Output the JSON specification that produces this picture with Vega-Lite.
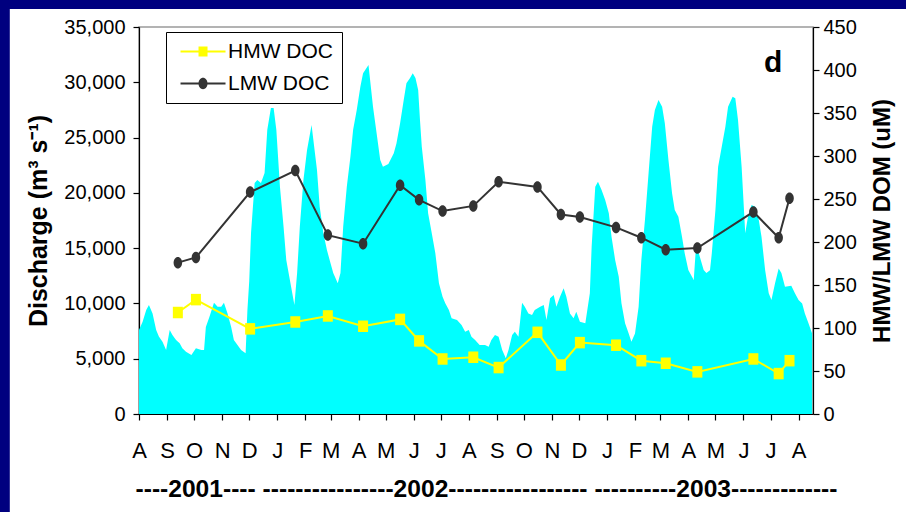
{
  "$schema": "https://vega.github.io/schema/vega-lite/v6.json",
  "width": 674,
  "height": 387,
  "autosize": {"type": "none"},
  "padding": {"left": 139, "top": 27, "right": 93, "bottom": 98},
  "background": "white",
  "config": {
    "font": "Liberation Sans",
    "view": {"stroke": "#9a9a9a", "strokeWidth": 1.5},
    "axis": {
      "zindex": 1, "grid": false, "domainColor": "#000000", "domainWidth": 1.2,
      "tickColor": "#000000", "tickSize": 6, "tickWidth": 1.2,
      "labelColor": "#000000", "labelFont": "Liberation Sans", "labelFontSize": 20,
      "titleColor": "#000000"
    }
  },
  "datasets": {
    "discharge": [
      {"date": "2001-08-01", "q": 7600}, {"date": "2001-08-05", "q": 8350}, {"date": "2001-08-09", "q": 9400},
      {"date": "2001-08-12", "q": 9860}, {"date": "2001-08-16", "q": 9100}, {"date": "2001-08-20", "q": 7600},
      {"date": "2001-08-23", "q": 7000}, {"date": "2001-08-27", "q": 6540}, {"date": "2001-08-31", "q": 5790},
      {"date": "2001-09-04", "q": 7600}, {"date": "2001-09-07", "q": 7150}, {"date": "2001-09-11", "q": 6690},
      {"date": "2001-09-15", "q": 6390}, {"date": "2001-09-18", "q": 5940}, {"date": "2001-09-22", "q": 5640},
      {"date": "2001-09-28", "q": 5340}, {"date": "2001-10-03", "q": 5940}, {"date": "2001-10-09", "q": 5790},
      {"date": "2001-10-12", "q": 5790}, {"date": "2001-10-14", "q": 7870}, {"date": "2001-10-18", "q": 8800},
      {"date": "2001-10-23", "q": 10070}, {"date": "2001-10-27", "q": 9700}, {"date": "2001-10-31", "q": 9700},
      {"date": "2001-11-03", "q": 10070}, {"date": "2001-11-07", "q": 9100}, {"date": "2001-11-11", "q": 7870},
      {"date": "2001-11-14", "q": 6690}, {"date": "2001-11-18", "q": 6240}, {"date": "2001-11-22", "q": 5790},
      {"date": "2001-11-27", "q": 5490}, {"date": "2001-11-29", "q": 9400}, {"date": "2001-12-01", "q": 12000},
      {"date": "2001-12-03", "q": 16370}, {"date": "2001-12-07", "q": 20900}, {"date": "2001-12-10", "q": 21160},
      {"date": "2001-12-14", "q": 20900}, {"date": "2001-12-18", "q": 21800}, {"date": "2001-12-21", "q": 25700},
      {"date": "2001-12-25", "q": 27670}, {"date": "2001-12-28", "q": 27670}, {"date": "2001-12-31", "q": 25700},
      {"date": "2002-01-04", "q": 20560}, {"date": "2002-01-08", "q": 16940}, {"date": "2002-01-11", "q": 13930},
      {"date": "2002-01-15", "q": 12120}, {"date": "2002-01-20", "q": 9860}, {"date": "2002-01-23", "q": 12750},
      {"date": "2002-01-26", "q": 16940}, {"date": "2002-01-30", "q": 21160}, {"date": "2002-02-03", "q": 23880},
      {"date": "2002-02-08", "q": 26140}, {"date": "2002-02-14", "q": 22070}, {"date": "2002-02-17", "q": 18750},
      {"date": "2002-02-21", "q": 16370}, {"date": "2002-02-25", "q": 14830}, {"date": "2002-02-28", "q": 13930},
      {"date": "2002-03-04", "q": 12750}, {"date": "2002-03-09", "q": 11820}, {"date": "2002-03-12", "q": 12750},
      {"date": "2002-03-15", "q": 16940}, {"date": "2002-03-19", "q": 20560}, {"date": "2002-03-23", "q": 23270},
      {"date": "2002-03-26", "q": 25700}, {"date": "2002-03-30", "q": 27490}, {"date": "2002-04-03", "q": 29600},
      {"date": "2002-04-06", "q": 30810}, {"date": "2002-04-12", "q": 31560}, {"date": "2002-04-17", "q": 27790},
      {"date": "2002-04-21", "q": 25390}, {"date": "2002-04-25", "q": 22970}, {"date": "2002-04-28", "q": 22370},
      {"date": "2002-05-04", "q": 22600}, {"date": "2002-05-10", "q": 23580}, {"date": "2002-05-13", "q": 24480},
      {"date": "2002-05-17", "q": 26290}, {"date": "2002-05-21", "q": 28400}, {"date": "2002-05-24", "q": 29910},
      {"date": "2002-05-28", "q": 30390}, {"date": "2002-05-31", "q": 30810}, {"date": "2002-06-03", "q": 30390},
      {"date": "2002-06-06", "q": 29300}, {"date": "2002-06-08", "q": 26590}, {"date": "2002-06-10", "q": 24180},
      {"date": "2002-06-14", "q": 21160}, {"date": "2002-06-17", "q": 18150}, {"date": "2002-06-21", "q": 16370},
      {"date": "2002-06-25", "q": 14530}, {"date": "2002-06-29", "q": 11820}, {"date": "2002-07-03", "q": 10610},
      {"date": "2002-07-06", "q": 10010}, {"date": "2002-07-10", "q": 9400}, {"date": "2002-07-13", "q": 8650},
      {"date": "2002-07-19", "q": 8500}, {"date": "2002-07-24", "q": 8050}, {"date": "2002-07-28", "q": 7440},
      {"date": "2002-08-01", "q": 7600}, {"date": "2002-08-04", "q": 6990}, {"date": "2002-08-08", "q": 6690},
      {"date": "2002-08-13", "q": 6240}, {"date": "2002-08-19", "q": 6240}, {"date": "2002-08-23", "q": 6090},
      {"date": "2002-08-26", "q": 6690}, {"date": "2002-08-30", "q": 7150}, {"date": "2002-09-03", "q": 6990},
      {"date": "2002-09-07", "q": 5790}, {"date": "2002-09-11", "q": 5040}, {"date": "2002-09-14", "q": 5790},
      {"date": "2002-09-18", "q": 7150}, {"date": "2002-09-21", "q": 7440}, {"date": "2002-09-25", "q": 6990},
      {"date": "2002-09-29", "q": 10070}, {"date": "2002-10-02", "q": 9700}, {"date": "2002-10-06", "q": 9100},
      {"date": "2002-10-10", "q": 8950}, {"date": "2002-10-13", "q": 9400}, {"date": "2002-10-19", "q": 9700},
      {"date": "2002-10-23", "q": 9860}, {"date": "2002-10-26", "q": 8500}, {"date": "2002-10-30", "q": 10460},
      {"date": "2002-11-03", "q": 10760}, {"date": "2002-11-06", "q": 9700}, {"date": "2002-11-10", "q": 10610},
      {"date": "2002-11-14", "q": 11370}, {"date": "2002-11-17", "q": 10610}, {"date": "2002-11-21", "q": 9100},
      {"date": "2002-11-25", "q": 8650}, {"date": "2002-11-28", "q": 9250}, {"date": "2002-12-02", "q": 8350},
      {"date": "2002-12-08", "q": 8200}, {"date": "2002-12-13", "q": 10910}, {"date": "2002-12-15", "q": 15130},
      {"date": "2002-12-19", "q": 20560}, {"date": "2002-12-22", "q": 21010}, {"date": "2002-12-26", "q": 20260},
      {"date": "2002-12-30", "q": 19350}, {"date": "2003-01-03", "q": 18150}, {"date": "2003-01-06", "q": 16040},
      {"date": "2003-01-10", "q": 13930}, {"date": "2003-01-14", "q": 12420}, {"date": "2003-01-17", "q": 10010},
      {"date": "2003-01-21", "q": 8200}, {"date": "2003-01-25", "q": 7290}, {"date": "2003-01-28", "q": 6540},
      {"date": "2003-02-01", "q": 7290}, {"date": "2003-02-05", "q": 9700}, {"date": "2003-02-08", "q": 13930},
      {"date": "2003-02-12", "q": 17540}, {"date": "2003-02-16", "q": 21770}, {"date": "2003-02-20", "q": 25980},
      {"date": "2003-02-23", "q": 27490}, {"date": "2003-02-27", "q": 28400}, {"date": "2003-03-03", "q": 27790},
      {"date": "2003-03-06", "q": 26290}, {"date": "2003-03-10", "q": 22970}, {"date": "2003-03-14", "q": 19960},
      {"date": "2003-03-17", "q": 18450}, {"date": "2003-03-21", "q": 17840}, {"date": "2003-03-25", "q": 16040},
      {"date": "2003-03-28", "q": 14530}, {"date": "2003-04-01", "q": 13020}, {"date": "2003-04-07", "q": 12120},
      {"date": "2003-04-09", "q": 14530}, {"date": "2003-04-12", "q": 14700}, {"date": "2003-04-18", "q": 13020},
      {"date": "2003-04-21", "q": 12750}, {"date": "2003-04-25", "q": 13000}, {"date": "2003-04-27", "q": 14530},
      {"date": "2003-05-01", "q": 18450}, {"date": "2003-05-04", "q": 22370}, {"date": "2003-05-08", "q": 24180},
      {"date": "2003-05-12", "q": 25980}, {"date": "2003-05-15", "q": 27790}, {"date": "2003-05-20", "q": 28700},
      {"date": "2003-05-23", "q": 28550}, {"date": "2003-05-26", "q": 26590}, {"date": "2003-05-30", "q": 22370},
      {"date": "2003-06-03", "q": 16340}, {"date": "2003-06-06", "q": 17840}, {"date": "2003-06-10", "q": 18900},
      {"date": "2003-06-14", "q": 18750}, {"date": "2003-06-18", "q": 17540}, {"date": "2003-06-21", "q": 16040},
      {"date": "2003-06-25", "q": 13020}, {"date": "2003-06-29", "q": 10910}, {"date": "2003-07-02", "q": 10310},
      {"date": "2003-07-06", "q": 11820}, {"date": "2003-07-10", "q": 13170}, {"date": "2003-07-13", "q": 12750},
      {"date": "2003-07-17", "q": 11510}, {"date": "2003-07-24", "q": 11600}, {"date": "2003-07-28", "q": 10910},
      {"date": "2003-08-01", "q": 10310}, {"date": "2003-08-05", "q": 10000}, {"date": "2003-08-08", "q": 9100},
      {"date": "2003-08-12", "q": 8200}, {"date": "2003-08-16", "q": 7290}
    ],
    "doc": [
      {"date": "2001-09-13", "series": "HMW DOC", "value": 118}, {"date": "2001-09-13", "series": "LMW DOC", "value": 176},
      {"date": "2001-10-03", "series": "HMW DOC", "value": 133}, {"date": "2001-10-03", "series": "LMW DOC", "value": 182},
      {"date": "2001-12-02", "series": "HMW DOC", "value": 99}, {"date": "2001-12-02", "series": "LMW DOC", "value": 258},
      {"date": "2002-01-21", "series": "HMW DOC", "value": 107}, {"date": "2002-01-21", "series": "LMW DOC", "value": 283},
      {"date": "2002-02-26", "series": "HMW DOC", "value": 114}, {"date": "2002-02-26", "series": "LMW DOC", "value": 208},
      {"date": "2002-04-06", "series": "HMW DOC", "value": 102}, {"date": "2002-04-06", "series": "LMW DOC", "value": 198},
      {"date": "2002-05-17", "series": "HMW DOC", "value": 110}, {"date": "2002-05-17", "series": "LMW DOC", "value": 266},
      {"date": "2002-06-07", "series": "HMW DOC", "value": 85}, {"date": "2002-06-07", "series": "LMW DOC", "value": 249},
      {"date": "2002-07-03", "series": "HMW DOC", "value": 64}, {"date": "2002-07-03", "series": "LMW DOC", "value": 236},
      {"date": "2002-08-06", "series": "HMW DOC", "value": 66}, {"date": "2002-08-06", "series": "LMW DOC", "value": 242},
      {"date": "2002-09-03", "series": "HMW DOC", "value": 54}, {"date": "2002-09-03", "series": "LMW DOC", "value": 270},
      {"date": "2002-10-16", "series": "HMW DOC", "value": 95}, {"date": "2002-10-16", "series": "LMW DOC", "value": 264},
      {"date": "2002-11-11", "series": "HMW DOC", "value": 57}, {"date": "2002-11-11", "series": "LMW DOC", "value": 232},
      {"date": "2002-12-02", "series": "HMW DOC", "value": 83}, {"date": "2002-12-02", "series": "LMW DOC", "value": 229},
      {"date": "2003-01-11", "series": "HMW DOC", "value": 80}, {"date": "2003-01-11", "series": "LMW DOC", "value": 217},
      {"date": "2003-02-08", "series": "HMW DOC", "value": 62}, {"date": "2003-02-08", "series": "LMW DOC", "value": 205},
      {"date": "2003-03-07", "series": "HMW DOC", "value": 59}, {"date": "2003-03-07", "series": "LMW DOC", "value": 191},
      {"date": "2003-04-11", "series": "HMW DOC", "value": 49}, {"date": "2003-04-11", "series": "LMW DOC", "value": 193},
      {"date": "2003-06-12", "series": "HMW DOC", "value": 64}, {"date": "2003-06-12", "series": "LMW DOC", "value": 235},
      {"date": "2003-07-10", "series": "HMW DOC", "value": 47}, {"date": "2003-07-10", "series": "LMW DOC", "value": 205},
      {"date": "2003-07-22", "series": "HMW DOC", "value": 62}, {"date": "2003-07-22", "series": "LMW DOC", "value": 251}
    ]
  },
  "layer": [
    {
      "layer": [
        {
          "data": {"values": [{}]},
          "mark": {"type": "rect", "color": "#00007f"},
          "encoding": {
            "x": {"datum": {"year": 2000, "month": 1, "date": 1, "utc": true}, "type": "temporal", "scale": {"type": "utc", "domain": [{"year": 2001, "month": 8, "date": 1, "utc": true}, {"year": 2003, "month": 8, "date": 17, "utc": true}]}},
            "x2": {"datum": {"year": 2001, "month": 3, "date": 11, "utc": true}},
            "y": {"datum": -40000, "type": "quantitative", "scale": {"domain": [0, 35000], "nice": false, "zero": false}},
            "y2": {"datum": 70000}
          }
        },
        {
          "data": {"values": [{}]},
          "mark": {"type": "rect", "color": "#00007f"},
          "encoding": {
            "x": {"datum": {"year": 2000, "month": 1, "date": 1, "utc": true}, "type": "temporal"},
            "x2": {"datum": {"year": 2005, "month": 1, "date": 1, "utc": true}},
            "y": {"datum": 36628, "type": "quantitative"},
            "y2": {"datum": 70000}
          }
        },
        {
          "data": {"name": "discharge"},
          "mark": {"type": "area", "color": "#00ffff", "opacity": 1},
          "encoding": {
            "x": {
              "field": "date", "type": "temporal",
              "scale": {"type": "utc", "domain": [{"year": 2001, "month": 8, "date": 1, "utc": true}, {"year": 2003, "month": 8, "date": 17, "utc": true}]},
              "axis": {
                "orient": "bottom",
                "tickCount": {"interval": "month", "step": 1},
                "labelExpr": "substring(utcFormat(datum.value, '%b'), 0, 1)",
                "labelFlush": false, "labelOverlap": false, "labelPadding": 20, "labelFontSize": 22,
                "title": "----2001---- ----------------2002----------------- ----------2003-------------",
                "titleFont": "Liberation Sans", "titleFontSize": 24.6, "titleFontWeight": "bold",
                "titleAnchor": "start", "titleAlign": "left", "titleX": -4, "titlePadding": 16
              }
            },
            "y": {
              "field": "q", "type": "quantitative",
              "scale": {"domain": [0, 35000], "nice": false, "zero": false},
              "axis": {
                "orient": "left",
                "values": [0, 5000, 10000, 15000, 20000, 25000, 30000, 35000],
                "format": ",d", "labelPadding": 8,
                "title": "Discharge (m³ s⁻¹)",
                "titleFont": "Liberation Sans", "titleFontSize": 25, "titleFontWeight": "bold", "titlePadding": 12
              }
            }
          }
        },
        {
          "data": {"values": [{}]},
          "mark": {"type": "text", "text": "d", "font": "Liberation Sans", "fontWeight": "bold", "fontSize": 30, "baseline": "alphabetic", "align": "center", "color": "#000000"},
          "encoding": {
            "x": {"datum": {"year": 2003, "month": 7, "date": 4, "utc": true}, "type": "temporal"},
            "y": {"datum": 30930, "type": "quantitative"}
          }
        }
      ]
    },
    {
      "data": {"name": "doc"},
      "layer": [
        {
          "transform": [{"filter": "datum.series == 'HMW DOC'"}],
          "mark": {"type": "line", "strokeWidth": 2, "color": "#ffff00"},
          "encoding": {
            "x": {"field": "date", "type": "temporal"},
            "y": {
              "field": "value", "type": "quantitative",
              "scale": {"domain": [0, 450], "nice": false, "zero": false},
              "axis": {
                "orient": "right",
                "values": [0, 50, 100, 150, 200, 250, 300, 350, 400, 450],
                "labelPadding": 4,
                "title": "HMW/LMW DOM (uM)",
                "titleFont": "Liberation Sans", "titleFontSize": 24, "titleFontWeight": "bold",
                "titleAngle": 270, "titleBaseline": "top", "titlePadding": 14
              }
            }
          }
        },
        {
          "transform": [{"filter": "datum.series == 'LMW DOC'"}],
          "mark": {"type": "line", "strokeWidth": 2, "color": "#333333"},
          "encoding": {
            "x": {"field": "date", "type": "temporal"},
            "y": {"field": "value", "type": "quantitative"}
          }
        },
        {
          "mark": {
            "type": "point", "filled": true, "size": 100, "opacity": 1,
            "shape": {"expr": "datum.series == 'HMW DOC' ? 'M-1,-1.15H1V1.15H-1Z' : 'M0,-1.15A0.85,1.15 0 1,1 0,1.15A0.85,1.15 0 1,1 0,-1.15Z'"}
          },
          "encoding": {
            "x": {"field": "date", "type": "temporal"},
            "y": {"field": "value", "type": "quantitative"},
            "color": {
              "field": "series", "type": "nominal",
              "scale": {"domain": ["HMW DOC", "LMW DOC"], "range": ["#ffff00", "#333333"]},
              "legend": {
                "title": null, "orient": "none", "legendX": 27, "legendY": 5,
                "fillColor": "#ffffff", "strokeColor": "#000000", "padding": 9,
                "labelFont": "Liberation Sans", "labelFontSize": 21, "labelColor": "#000000",
                "symbolType": {"expr": "datum.value == 'HMW DOC' ? 'M-0.83,-0.17H6.67V0.17H-0.83Z M2.17,-0.85H3.67V0.85H2.17Z' : 'M-0.83,-0.17H6.67V0.17H-0.83Z M2.92,-0.95A0.75,0.95 0 1,1 2.92,0.95A0.75,0.95 0 1,1 2.92,-0.95Z'"},
                "symbolSize": 144, "symbolOffset": 0, "symbolStrokeWidth": 0, "labelOffset": 32, "rowPadding": 10
              }
            }
          }
        }
      ]
    }
  ],
  "resolve": {"scale": {"y": "independent"}}
}
